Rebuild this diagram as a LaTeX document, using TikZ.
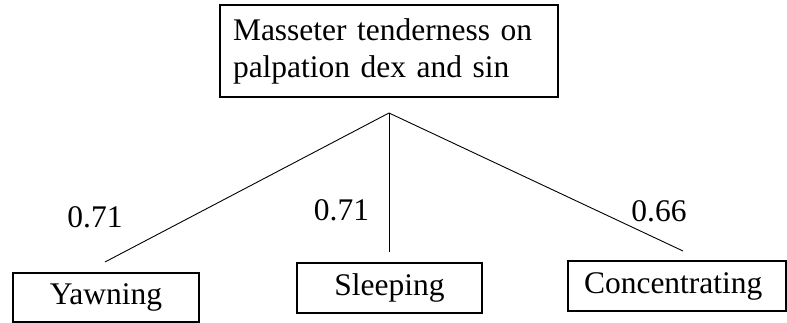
\documentclass[tikz,border=0pt]{standalone}
\usepackage{fontspec}
\setmainfont{Liberation Serif}
\begin{document}
\begin{tikzpicture}[x=1pt,y=-1pt,
  every node/.style={font=\fontsize{31.5}{37}\selectfont},
  box/.style={draw,line width=1.7pt,inner sep=0pt},
  link/.style={line width=0.9pt},
  wt/.style={anchor=base,inner sep=0pt}]
\useasboundingbox (0,0) rectangle (787,323);
\node[box,minimum width=338pt,minimum height=92pt,inner xsep=13pt,text width=312pt,align=left] (top) at (389,51)
  {Masseter tenderness on\\palpation dex and sin};
\coordinate (apex) at (389,113);
\node[box,minimum width=186pt,minimum height=49pt] (yawn) at (106,297.5) {Yawning};
\node[box,minimum width=185pt,minimum height=50pt] (sleep) at (389.5,288) {Sleeping};
\node[box,minimum width=218pt,minimum height=50pt,inner xsep=16pt,text width=186pt,align=left] (conc) at (677,286) {Concentrating};
\coordinate (e1) at (105,262);
\coordinate (e2) at (389,252);
\coordinate (e3) at (683,251);
\draw[link] (apex) -- (e1);
\draw[link] (apex) -- (e2);
\draw[link] (apex) -- (e3);
\node[wt] (w1) at (95,228) {0.71};
\node[wt] (w2) at (341.5,221) {0.71};
\node[wt] (w3) at (659,222) {0.66};
\end{tikzpicture}
\end{document}
